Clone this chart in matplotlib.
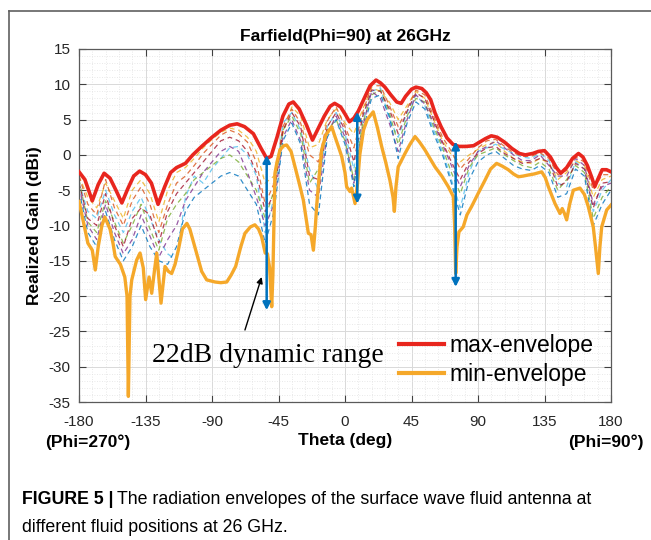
import numpy as np
import matplotlib
matplotlib.use('Agg')
import matplotlib.pyplot as plt
from matplotlib.lines import Line2D
from matplotlib.ticker import MultipleLocator

plt.rcParams['font.family'] = ['Liberation Sans', 'DejaVu Sans']
plt.rcParams['axes.unicode_minus'] = False

# envelope curves (theta in deg, gain in dBi)
max_theta = [-180, -176, -171, -167, -163, -159, -155, -151, -147, -143, -139, -135, -131, -126.5,
             -122, -118, -114, -108, -103, -97, -90, -84, -78, -73, -68, -62, -57, -53, -50, -46,
             -42, -38, -35, -31, -26, -22, -18, -14, -10, -7, -3, 0, 3, 6, 9, 13, 17, 21, 24, 27,
             31, 35, 38, 41, 45, 48, 52, 55, 58, 61, 65, 69, 73, 77, 82, 87, 91, 95, 99, 103, 108,
             113, 118, 122, 127, 131, 135, 139, 143, 146, 150, 154, 158, 161, 164, 167, 169, 171,
             174, 177, 180]
max_gain = [-2.4, -3.5, -6.5, -4.2, -2.6, -3.3, -5.0, -6.8, -4.8, -3.0, -2.3, -2.8, -4.0, -7.0,
            -4.5, -2.5, -1.8, -1.2, 0.0, 1.2, 2.5, 3.5, 4.2, 4.4, 4.0, 3.0, 1.0, -0.5, -0.2, 2.5,
            5.5, 7.2, 7.5, 6.5, 4.2, 2.1, 3.8, 5.5, 6.9, 7.3, 6.8, 5.8, 4.7, 5.2, 6.2, 8.0, 9.8, 10.6, 10.2, 9.6,
            8.5, 7.5, 7.3, 8.3, 9.3, 9.6, 9.4, 8.8, 7.8, 5.9, 4.0, 2.4, 1.5, 1.2, 1.2, 1.3, 1.8, 2.3, 2.7, 2.5, 1.8,
            0.9, 0.2, 0.0, 0.2, 0.5, 0.6, -0.3, -1.8, -2.6, -1.8, -0.5, 0.2, -0.3, -1.5, -3.2, -4.5, -3.5,
            -2.1, -2.1, -2.4]

min_theta = [-180, -177, -174, -171, -169, -167, -164.5, -162.5, -160.5, -159, -157, -155.5, -152, -149,
             -147.5, -146.6, -145.5, -144.3, -141, -138.7, -136.5, -134.9, -132.6, -130.8, -129, -127.4,
             -124.5, -121.8, -119.5, -117.3, -115, -112.8, -110, -107, -105, -101, -97, -93.6, -88, -84,
             -80, -77, -74, -70.5, -67.7, -64, -61, -58.5, -56.4, -54, -52.5, -51, -49.6, -48.8, -47.4,
             -46, -44, -41.5, -39.5, -36.5, -33.8, -31, -28.2, -26, -24.8, -23, -21.4, -20, -19.2, -17.5,
             -15.8, -13, -9, -6.8, -4.5, -2.2, 0, 1.1, 3.4, 4.5, 6.8, 8.5, 10, 12.5, 15, 19.1, 22, 24.8,
             27.5, 30.4, 32.5, 33.4, 34.5, 36, 40.6, 44, 47.4, 50.5, 54.1, 57.5, 60.9, 65.5, 69.9, 73.3,
             74.2, 74.9, 75.8, 77.1, 80, 82.5, 85.7, 90, 94.7, 98.5, 102.6, 106.5, 110.5, 114, 117.3,
             120.5, 124, 128, 133.1, 135.5, 137.6, 142.1, 145.5, 147, 148.5, 150, 152, 154.5, 159, 162,
             164.6, 168, 169.5, 171.4, 172.5, 173.7, 177.1, 180]
min_gain = [-6.6, -9.5, -12.5, -13.5, -16.3, -13.0, -10.0, -8.8, -9.8, -10.5, -12.5, -14.4, -15.5, -17.3,
            -20.0, -34.2, -20.0, -17.7, -14.9, -13.9, -16.0, -20.5, -17.3, -19.6, -16.5, -13.9,
            -21.0, -15.8, -16.5, -16.8, -15.5, -13.5, -10.5, -9.7, -10.5, -13.5, -16.5, -17.7, -18.0, -18.1,
            -18.0, -17.0, -15.8, -13.0, -11.1, -10.2, -9.9, -10.5, -11.6, -13.9, -14.0, -16.0, -21.5, -17.0, -2.6,
            -1.0, 0.7, 1.3, 1.4, 0.5, -1.7, -4.0, -6.4, -9.5, -11.1, -11.3, -13.5, -10.0, -7.3, -3.0,
            0.7, 2.8, 4.0, 2.6, 1.2, -0.25, -2.5, -4.5, -5.2, -4.7, -6.9, -4.0, 0.0, 3.5, 5.0, 6.1, 3.8, 1.2,
            -1.0, -3.6, -6.0, -8.0, -4.5, -1.7, 0.2, 1.5, 2.6, 1.8, 0.7, -0.5, -1.7, -3.0, -4.5, -5.9,
            -10.0, -16.8, -13.0, -10.9, -10.2, -8.5, -7.3, -5.5, -3.6, -2.0, -1.2, -1.6, -2.1, -2.7, -3.1,
            -3.0, -2.85, -2.7, -2.4, -3.2, -4.5, -6.9, -8.3, -7.6, -8.3, -9.2, -7.0, -5.0, -4.7, -5.6,
            -7.3, -10.2, -13.0, -16.8, -13.0, -10.2, -7.8, -7.1]

# individual fluid positions (dashed), on a 6 deg grid
theta_grid = list(range(-180, 181, 6))
pos_gains = [
    [-3.0, -6.0, -7.5, -4.0, -6.5, -9.0, -5.0, -3.5, -5.5, -9.5, -5.0, -2.5, -1.8, -0.5, 1.0, 2.2, 3.2, 3.8, 3.5, 2.5,
     0.5, -4.0, -3.0, 3.0, 6.8, 5.5, 1.0, 1.5, 5.0, 6.5, 4.5, 3.0, 6.5, 9.5, 9.0, 7.5, 5.0, 7.0, 9.0, 8.0,
     5.0, 2.0, 0.0, -1.0, 0.0, 0.8, 1.5, 1.8, 0.5, -0.5, -1.0, -1.2, -0.5, -1.2, -3.5, -2.5, -0.8, -1.5, -6.0, -3.5, -3.0],
    [-4.0, -8.0, -9.0, -5.0, -8.5, -11.0, -8.0, -6.0, -9.0, -12.0, -14.0, -15.0, -6.0, -3.0, -4.0, -2.0, -0.5, 1.0, 1.2, 0.0,
     -3.0, -11.0, -6.0, 4.5, 6.0, 3.5, -2.0, -5.0, 4.0, 6.0, 3.0, -2.0, 5.0, 9.0, 9.5, 5.0, 2.5, 6.0, 8.5, 7.0,
     3.5, 0.5, -3.5, -7.5, -2.5, 0.5, 1.0, 1.5, 0.8, 0.2, -0.3, -0.5, 0.2, -0.8, -4.0, -4.5, -1.0, -2.0, -8.0, -5.0, -3.5],
    [-3.5, -9.5, -11.0, -6.5, -9.5, -12.5, -10.0, -7.0, -10.5, -13.5, -9.0, -7.0, -5.5, -3.5, -2.5, -1.5, -0.5, 0.0, -1.0, -3.0,
     -5.0, -9.0, -5.0, 3.5, 5.5, 3.0, -4.0, -2.0, 3.5, 5.0, 2.0, -3.5, 4.5, 8.5, 9.2, 6.0, 1.5, 5.5, 8.0, 7.5,
     4.0, 1.0, -2.5, -5.5, -1.8, 0.0, 0.5, 1.0, 0.0, -0.8, -1.5, -1.8, -1.0, -2.0, -5.0, -3.5, -1.5, -2.5, -9.0, -6.0, -4.5],
    [-4.5, -10.0, -12.0, -7.0, -11.0, -14.0, -12.0, -8.5, -11.5, -14.5, -12.0, -10.0, -6.5, -4.5, -2.5, -1.0, 0.5, 1.2, 0.5, -2.5,
     -6.0, -10.0, -7.0, 2.5, 5.0, 2.0, -5.0, -6.0, 3.0, 5.5, 2.5, -4.0, 4.0, 9.0, 8.0, 4.5, 0.5, 5.0, 8.5, 7.2,
     4.5, 1.5, -1.5, -4.5, -1.5, 0.5, 1.2, 2.0, 1.0, 0.0, -0.8, -0.8, 0.0, -1.5, -3.0, -3.0, -0.5, -1.5, -7.0, -4.5, -4.0],
    [-3.0, -7.0, -8.5, -3.5, -7.5, -10.0, -6.5, -4.5, -7.0, -11.0, -7.0, -4.0, -3.0, -1.5, 0.2, 1.5, 2.8, 3.5, 3.0, 1.8,
     -1.0, -7.0, -4.0, 4.0, 6.5, 4.5, 0.0, -1.0, 4.8, 6.8, 4.0, 1.0, 6.0, 9.8, 9.8, 7.0, 4.0, 6.5, 9.2, 8.5,
     5.5, 2.5, 0.5, -2.0, -0.5, 1.0, 2.0, 2.2, 1.2, 0.3, -0.2, -0.2, 0.3, -0.5, -2.8, -2.2, -0.3, -1.0, -5.0, -2.8, -2.8],
    [-5.0, -11.0, -13.0, -8.0, -12.0, -15.0, -13.0, -10.0, -13.0, -15.0, -15.5, -13.0, -8.0, -6.0, -5.0, -4.0, -3.0, -2.5, -3.0, -5.0,
     -7.0, -12.5, -8.0, 2.0, 4.5, 1.5, -7.0, -8.5, 2.5, 5.0, 1.5, -4.5, 3.5, 8.0, 8.5, 5.5, -0.5, 4.5, 7.5, 6.5,
     3.0, 0.0, -4.0, -8.5, -3.5, -1.0, 0.0, 0.5, -0.5, -1.5, -2.0, -2.2, -1.5, -2.5, -6.0, -5.5, -2.0, -3.0, -10.0, -7.0, -5.0],
    [-4.0, -9.0, -10.0, -5.5, -10.0, -13.0, -9.0, -7.5, -8.5, -12.5, -8.0, -5.5, -4.0, -2.5, -1.0, 0.5, 2.0, 2.5, 2.0, 0.5,
     -2.5, -8.0, -5.5, 3.5, 6.0, 4.0, -3.0, -3.5, 4.0, 6.0, 3.5, -1.0, 5.5, 9.2, 9.0, 6.5, 3.0, 6.2, 8.8, 8.0,
     5.0, 1.8, -1.0, -3.5, -1.0, 0.2, 1.0, 1.2, 0.2, -0.5, -1.2, -1.0, -0.5, -1.0, -4.5, -3.8, -1.2, -2.0, -7.5, -4.0, -3.8],
]
pos_colors = ['#EDB120', '#4DBEEE', '#77AC30', '#7E2F8E', '#D95319', '#0072BD', '#A2142F']

# dynamic range arrows: theta, top, bottom
arrow_theta = [-53, 8.3, 74.9]
arrow_top = [0.0, 6.1, 1.9]
arrow_bottom = [-22.0, -6.9, -18.7]

fig = plt.figure(figsize=(6.51, 5.40), dpi=100)
ax = fig.add_axes([79 / 651, 1 - 402 / 540, 532 / 651, 353 / 540])

for g, c in zip(pos_gains, pos_colors):
    ax.plot(theta_grid, g, color=c, lw=0.9, ls=(0, (4, 3)), alpha=0.8)

ax.plot(max_theta, max_gain, color='#E8261E', lw=2.6, label='max-envelope', zorder=5)
ax.plot(min_theta, min_gain, color='#F5A82A', lw=2.4, label='min-envelope', zorder=5)

for t, top, bot in zip(arrow_theta, arrow_top, arrow_bottom):
    ax.annotate('', xy=(t, top), xytext=(t, bot),
                arrowprops=dict(arrowstyle='<|-|>', color='#0072BD', lw=1.8,
                                mutation_scale=11, shrinkA=0, shrinkB=0), zorder=6)

ax.annotate('', xy=(-56.4, -17.3), xytext=(-67.7, -24.8),
            arrowprops=dict(arrowstyle='-|>', color='black', lw=1.0,
                            mutation_scale=9, shrinkA=0, shrinkB=0), zorder=6)
ax.text(-130.6, -29.3, '22dB dynamic range', family='Liberation Serif', fontsize=20,
        ha='left', va='baseline', zorder=7)

ax.set_xlim(-180, 180)
ax.set_ylim(-35, 15)
ax.set_xticks(np.arange(-180, 181, 45))
ax.set_yticks(np.arange(-35, 16, 5))
ax.xaxis.set_minor_locator(MultipleLocator(9))
ax.yaxis.set_minor_locator(MultipleLocator(1))
ax.tick_params(which='major', direction='in', top=True, right=True, length=5,
               width=0.8, color='#404040', labelsize=11, labelcolor='#262626')
ax.tick_params(axis='x', which='major', pad=9)
ax.tick_params(axis='y', which='major', pad=6)
ax.tick_params(which='minor', length=0)
ax.grid(which='major', color='#d9d9d9', lw=0.7, ls='-')
ax.grid(which='minor', color='#e2e2e2', lw=0.6, ls=(0, (1, 2)))
ax.set_axisbelow(True)
for s in ax.spines.values():
    s.set_color('#5a5a5a')
    s.set_linewidth(0.9)

ax.set_title('Farfield(Phi=90) at 26GHz', fontsize=12.5, fontweight='bold', pad=6)
ax.set_xlabel('Theta (deg)', fontsize=12.5, fontweight='bold', labelpad=3)
ax.set_ylabel('Realized Gain (dBi)', fontsize=12.5, fontweight='bold', labelpad=5)
fig.text(88 / 651, 1 - 442 / 540, '(Phi=270°)', fontsize=12.5, fontweight='bold',
         ha='center', va='center')
fig.text(606 / 651, 1 - 442 / 540, '(Phi=90°)', fontsize=12.5, fontweight='bold',
         ha='center', va='center')

leg = ax.legend(loc='upper left', bbox_to_anchor=(388 / 651, 1 - 323 / 540),
                bbox_transform=fig.transFigure, frameon=False, fontsize=16.5,
                handlelength=1.95, handletextpad=0.25, labelspacing=0.25, borderpad=0)
for h in leg.get_lines():
    h.set_linewidth(3)

# figure frame
fig.add_artist(Line2D([9 / 651, 1], [1 - 11 / 540] * 2, color='#606060', lw=1.2))
fig.add_artist(Line2D([9 / 651, 9 / 651], [0, 1 - 11 / 540], color='#606060', lw=1.2))

# caption
t1 = fig.text(22 / 651, 1 - 499 / 540, 'FIGURE 5 |', fontsize=12.8, fontweight='bold',
              va='center', ha='left')
fig.canvas.draw()
bb = t1.get_window_extent()
fig.text((bb.x1 + 4) / 651, 1 - 499 / 540,
         'The radiation envelopes of the surface wave fluid antenna at',
         fontsize=12.8, va='center', ha='left')
fig.text(22 / 651, 1 - 527 / 540, 'different fluid positions at 26 GHz.',
         fontsize=12.8, va='center', ha='left')

fig.savefig('out.png', dpi=100)
